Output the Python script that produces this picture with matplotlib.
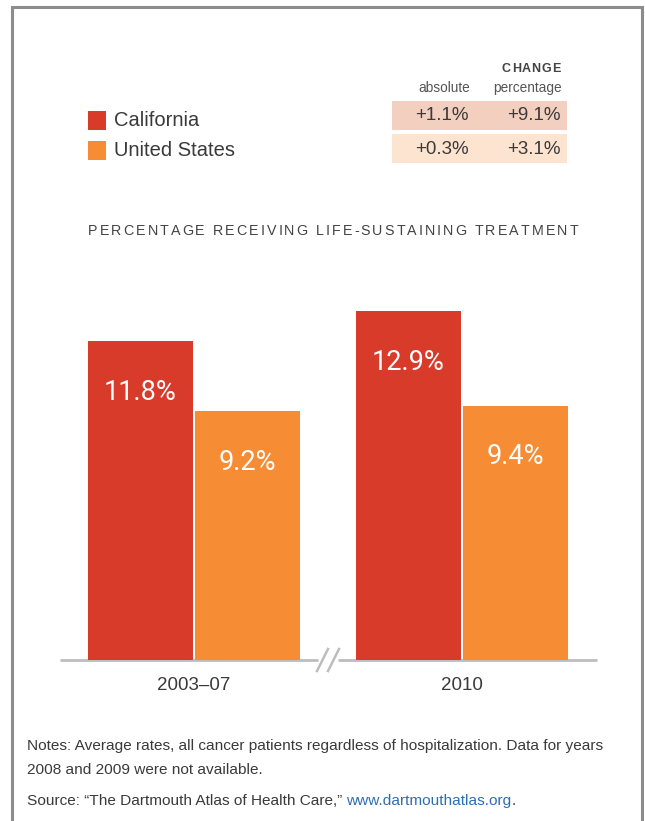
import numpy as np
import matplotlib.pyplot as plt
from matplotlib.patches import Rectangle
from matplotlib.font_manager import FontProperties, findfont
from matplotlib.ft2font import FT2Font

# data
groups = ["2003–07", "2010"]
series = ["California", "United States"]
california = [11.8, 12.9]
united_states = [9.2, 9.4]
change_abs = ["+1.1%", "+0.3%"]
change_pct = ["+9.1%", "+3.1%"]
notes = ["Notes: Average rates, all cancer patients regardless of "
         "hospitalization. Data for years",
         "2008 and 2009 were not available."]

CA = "#d83b2a"
US = "#f68c34"
ROW_BG = ["#f3cfc0", "#fde4d0"]
TXT = "#3a3a3a"
MAIN = ["Liberation Sans", "DejaVu Sans"]
LIGHT = ["Roboto", "DejaVu Sans"]

W, H = 645, 821
DPI = 100
fig = plt.figure(figsize=(W / DPI, H / DPI), dpi=DPI)
rend = fig.canvas.get_renderer()

def text_w(s, prop):
    return rend.get_text_width_height_descent(s, prop, ismath=False)[0]

def tracked(ax, x0, x1, y, s, prop, **kw):
    # letter spacing: step glyph origins by advance + extra tracking
    font = FT2Font(findfont(prop))
    font.set_size(prop.get_size_in_points(), DPI)
    adv = [font.load_char(ord(ch)).linearHoriAdvance / 65536 for ch in s]
    track = (x1 - x0 - sum(adv)) / (len(s) - 1)
    pen = x0
    for ch, a in zip(s, adv):
        if ch != " ":
            ax.text(pen, y, ch, fontproperties=prop, ha="left", va="center",
                    **kw)
        pen += a + track

# overlay in pixel coordinates for frame, legend, table, notes
ov = fig.add_axes([0, 0, 1, 1])
ov.set_xlim(0, W)
ov.set_ylim(H, 0)
ov.axis("off")

# frame
ov.plot([12, 12, 642, 642], [H + 5, 7, 7, H + 5], color="#8c8c8c", lw=2.2,
        solid_joinstyle="miter")

# legend
for i, (name, col) in enumerate(zip(series, [CA, US])):
    y0 = 111 + i * 30
    ov.add_patch(Rectangle((88, y0), 18, 19, color=col, lw=0))
    ov.text(114, y0 + 10, name, fontsize=14.5, family=MAIN, color=TXT,
            ha="left", va="center")

# change table
hprop = FontProperties(family=MAIN, size=9, weight="bold")
tracked(ov, 502, 560, 69, "CHANGE", hprop, color="#444444")
ov.text(470, 88, "absolute", fontsize=9.8, family=MAIN, color="#555555",
        ha="right", va="center")
ov.text(562, 88, "percentage", fontsize=9.8, family=MAIN, color="#555555",
        ha="right", va="center")
for i in range(len(change_abs)):
    y0 = 101 + i * 33
    ov.add_patch(Rectangle((392, y0), 175, 29, color=ROW_BG[i], lw=0))
    ov.text(469, y0 + 15, change_abs[i], fontsize=13.5, family=MAIN,
            color=TXT, ha="right", va="center")
    ov.text(561, y0 + 15, change_pct[i], fontsize=13.5, family=MAIN,
            color=TXT, ha="right", va="center")

# letter-spaced chart title
title = "PERCENTAGE RECEIVING LIFE-SUSTAINING TREATMENT"
tracked(ov, 88, 578, 231, title, FontProperties(family=MAIN, size=10.3),
        color="#444444")

# baseline with break marks
gray = "#bdbdbd"
ov.plot([60, 318], [660.5, 660.5], color=gray, lw=2.0, solid_capstyle="butt")
ov.plot([338, 597], [660.5, 660.5], color=gray, lw=2.0, solid_capstyle="butt")
for dx in (0, 11):
    ov.plot([317 + dx, 328 + dx], [671, 649], color=gray, lw=1.8)

# notes, sized so the first line fills the same width as the reference
nprop = FontProperties(family=MAIN, size=10)
nsize = 10 * (606 - 27) / text_w(notes[0], nprop)
ov.text(27, 746, notes[0], fontsize=nsize, family=MAIN, color=TXT,
        ha="left", va="center")
ov.text(27, 770, notes[1], fontsize=nsize, family=MAIN, color=TXT,
        ha="left", va="center")
src = ov.text(27, 801, "Source: \u201cThe Dartmouth Atlas of Health Care,\u201d",
              fontsize=nsize, family=MAIN, color=TXT, ha="left", va="center")
link = ov.annotate("www.dartmouthatlas.org", xy=(1, 0.5), xycoords=src,
                   xytext=(4, 0), textcoords="offset pixels", fontsize=nsize,
                   family=MAIN, color="#2f6db3", ha="left", va="center")
ov.annotate(".", xy=(1, 0.5), xycoords=link, fontsize=nsize, family=MAIN,
            color=TXT, ha="left", va="center")

# bar chart
px_per_pct = 27.03
ax = fig.add_axes([60 / W, 1 - 660 / H, (597 - 60) / W, (660 - 250) / H])
ax.patch.set_alpha(0)
unit = 268.25
ax.set_xlim((60 - 193.75) / unit, (597 - 193.75) / unit)
ax.set_ylim(0, (660 - 250) / px_per_pct)
x = np.arange(len(groups))
ax.bar(x - 0.2, california, 0.392, color=CA, lw=0)
ax.bar(x + 0.2, united_states, 0.392, color=US, lw=0)
for xs, vals in ((x - 0.2, california), (x + 0.2, united_states)):
    for xi, v in zip(xs, vals):
        ax.annotate(f"{v}%", (xi, v), xytext=(0, -51),
                    textcoords="offset pixels", ha="center", va="center",
                    fontsize=19.5, family=LIGHT, color="white")
ax.set_xticks(x, groups)
ax.tick_params(axis="x", length=0, pad=12, labelsize=13.5, labelcolor=TXT)
for lab in ax.get_xticklabels():
    lab.set_family(MAIN)
ax.set_yticks([])
for s in ax.spines.values():
    s.set_visible(False)

fig.savefig("out.png", dpi=DPI)
